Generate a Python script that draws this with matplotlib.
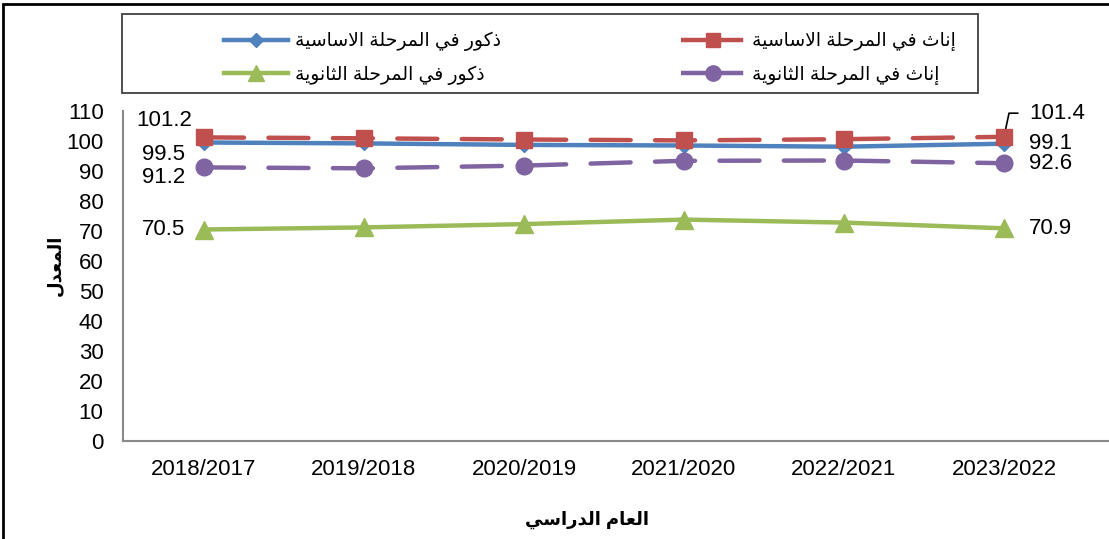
import matplotlib
matplotlib.use("Agg")
import matplotlib.pyplot as plt
from matplotlib.lines import Line2D
from matplotlib.patches import Rectangle

plt.rcParams['font.family'] = ['Liberation Sans', 'DejaVu Sans']

# data
years = ["2018/2017", "2019/2018", "2020/2019", "2021/2020", "2022/2021", "2023/2022"]
males_basic = [99.5, 99.2, 98.7, 98.5, 98.1, 99.1]
females_basic = [101.2, 100.9, 100.5, 100.2, 100.6, 101.4]
males_secondary = [70.5, 71.2, 72.3, 73.8, 72.8, 70.9]
females_secondary = [91.2, 90.9, 91.8, 93.4, 93.5, 92.6]

lbl_males_basic = "ذكور في المرحلة الاساسية"
lbl_females_basic = "إناث في المرحلة الاساسية"
lbl_males_secondary = "ذكور في المرحلة الثانوية"
lbl_females_secondary = "إناث في المرحلة الثانوية"
xlabel = "العام الدراسي"
ylabel = "المعدل"
yticks = list(range(0, 111, 10))

# --- minimal arabic shaping (matplotlib has no complex text layout) ---
# (isolated, final, initial, medial)
FORMS = {
    'ء': ('\uFE80', None, None, None),
    'آ': ('\uFE81', '\uFE82', None, None),
    'أ': ('\uFE83', '\uFE84', None, None),
    'إ': ('\uFE87', '\uFE88', None, None),
    'ا': ('\uFE8D', '\uFE8E', None, None),
    'ب': ('\uFE8F', '\uFE90', '\uFE91', '\uFE92'),
    'ة': ('\uFE93', '\uFE94', None, None),
    'ت': ('\uFE95', '\uFE96', '\uFE97', '\uFE98'),
    'ث': ('\uFE99', '\uFE9A', '\uFE9B', '\uFE9C'),
    'ج': ('\uFE9D', '\uFE9E', '\uFE9F', '\uFEA0'),
    'ح': ('\uFEA1', '\uFEA2', '\uFEA3', '\uFEA4'),
    'خ': ('\uFEA5', '\uFEA6', '\uFEA7', '\uFEA8'),
    'د': ('\uFEA9', '\uFEAA', None, None),
    'ذ': ('\uFEAB', '\uFEAC', None, None),
    'ر': ('\uFEAD', '\uFEAE', None, None),
    'ز': ('\uFEAF', '\uFEB0', None, None),
    'س': ('\uFEB1', '\uFEB2', '\uFEB3', '\uFEB4'),
    'ش': ('\uFEB5', '\uFEB6', '\uFEB7', '\uFEB8'),
    'ص': ('\uFEB9', '\uFEBA', '\uFEBB', '\uFEBC'),
    'ض': ('\uFEBD', '\uFEBE', '\uFEBF', '\uFEC0'),
    'ط': ('\uFEC1', '\uFEC2', '\uFEC3', '\uFEC4'),
    'ظ': ('\uFEC5', '\uFEC6', '\uFEC7', '\uFEC8'),
    'ع': ('\uFEC9', '\uFECA', '\uFECB', '\uFECC'),
    'غ': ('\uFECD', '\uFECE', '\uFECF', '\uFED0'),
    'ف': ('\uFED1', '\uFED2', '\uFED3', '\uFED4'),
    'ق': ('\uFED5', '\uFED6', '\uFED7', '\uFED8'),
    'ك': ('\uFED9', '\uFEDA', '\uFEDB', '\uFEDC'),
    'ل': ('\uFEDD', '\uFEDE', '\uFEDF', '\uFEE0'),
    'م': ('\uFEE1', '\uFEE2', '\uFEE3', '\uFEE4'),
    'ن': ('\uFEE5', '\uFEE6', '\uFEE7', '\uFEE8'),
    'ه': ('\uFEE9', '\uFEEA', '\uFEEB', '\uFEEC'),
    'و': ('\uFEED', '\uFEEE', None, None),
    'ى': ('\uFEEF', '\uFEF0', None, None),
    'ي': ('\uFEF1', '\uFEF2', '\uFEF3', '\uFEF4'),
}
LAM_ALEF = {
    'آ': ('\uFEF5', '\uFEF6', None, None),
    'أ': ('\uFEF7', '\uFEF8', None, None),
    'إ': ('\uFEF9', '\uFEFA', None, None),
    'ا': ('\uFEFB', '\uFEFC', None, None),
}


def shape(text):
    tokens = []
    i = 0
    while i < len(text):
        c = text[i]
        if c == 'ل' and i + 1 < len(text) and text[i + 1] in LAM_ALEF:
            tokens.append(LAM_ALEF[text[i + 1]])
            i += 2
            continue
        tokens.append(FORMS.get(c, c))
        i += 1
    out = []
    for k, t in enumerate(tokens):
        if isinstance(t, str):
            out.append(t)
            continue
        prev = tokens[k - 1] if k > 0 else None
        nxt = tokens[k + 1] if k + 1 < len(tokens) else None
        jp = isinstance(prev, tuple) and prev[2] is not None
        jn = t[2] is not None and isinstance(nxt, tuple)
        if jp and jn:
            out.append(t[3])
        elif jp:
            out.append(t[1])
        elif jn:
            out.append(t[2])
        else:
            out.append(t[0])
    return ''.join(out)[::-1]


blue = '#4F81BD'
red = '#C0504D'
green = '#9BBB59'
purple = '#8064A2'

fig = plt.figure(figsize=(11.09, 5.39), dpi=100)
ax = fig.add_axes([123 / 1109, 1 - 441 / 539, 1 - 123 / 1109, (441 - 111) / 539])

x = list(range(len(years)))
ax.plot(x, males_basic, color=blue, lw=3.2, marker='D', ms=7, zorder=3)
ax.plot(x, females_basic, color=red, lw=3.2, ls=(0, (9, 5.5)), dash_capstyle='round',
        marker='s', ms=11, zorder=4)
ax.plot(x, males_secondary, color=green, lw=3.2, marker='^', ms=13, zorder=3)
ax.plot(x, females_secondary, color=purple, lw=3.2, ls=(0, (9, 5.5)), dash_capstyle='round',
        marker='o', ms=12, zorder=3)

ax.set_xlim(-81 / 160, -81 / 160 + 986 / 160)
ax.set_ylim(0, 110)
ax.set_yticks(yticks)
ax.set_xticks(x)
ax.set_xticklabels(years)
ax.tick_params(axis='both', length=0, labelsize=16)
ax.tick_params(axis='y', pad=14)
ax.tick_params(axis='x', pad=13)
for s in ['top', 'right']:
    ax.spines[s].set_visible(False)
for s in ['left', 'bottom']:
    ax.spines[s].set_color('#898989')
    ax.spines[s].set_linewidth(1.5)

# data labels on first and last points
series = [males_basic, females_basic, males_secondary, females_secondary]
first_off = [(-29, -9), (-29, 12), (-29, 0), (-29, -7)]
last_off = [(18, 0), (18, 17), (18, 0), (18, 0)]
for vals, fo, lo in zip(series, first_off, last_off):
    ax.annotate(f"{vals[0]:.1f}", (0, vals[0]), xytext=fo, textcoords='offset points',
                ha='center', va='center', fontsize=16)
    if lo[1] > 0:
        ax.annotate(f"{vals[-1]:.1f}", (5, vals[-1]), xytext=lo, textcoords='offset points',
                    ha='left', va='center', fontsize=16,
                    arrowprops=dict(arrowstyle='-', color='black', lw=1.2,
                                    relpos=(0, 0.5), shrinkA=6, shrinkB=1,
                                    connectionstyle='angle,angleA=0,angleB=78,rad=0'))
    else:
        ax.annotate(f"{vals[-1]:.1f}", (5, vals[-1]), xytext=lo, textcoords='offset points',
                    ha='left', va='center', fontsize=16)

# axis titles
fig.text(55 / 1109, 1 - 265 / 539, shape(ylabel), rotation=90, ha='center', va='center',
         fontsize=13, fontweight='bold')
fig.text(587 / 1109, 1 - 520 / 539, shape(xlabel), ha='center', va='center',
         fontsize=13, fontweight='bold')

# legend
handles = [
    Line2D([], [], color=blue, lw=3.2, marker='D', ms=7),
    Line2D([], [], color=green, lw=3.2, marker='^', ms=11),
    Line2D([], [], color=red, lw=3.2, ls=(0, (14, 2.5)), marker='s', ms=10),
    Line2D([], [], color=purple, lw=3.2, ls=(0, (14, 2.5)), marker='o', ms=11),
]
labels = [shape(lbl_males_basic), shape(lbl_males_secondary),
          shape(lbl_females_basic), shape(lbl_females_secondary)]
fig.legend(handles, labels, ncol=2, loc='upper left',
           bbox_to_anchor=(205 / 1109, 1 - 13 / 539), frameon=False, fontsize=13.5,
           handlelength=3.4, handletextpad=0.4, columnspacing=9.6, labelspacing=0.75,
           borderpad=0.5)
fig.patches.append(Rectangle((122 / 1109, 1 - 93 / 539), (978 - 122) / 1109, 79 / 539,
                             transform=fig.transFigure, fill=False, edgecolor='#404040',
                             lw=1.3))

# outer chart border (cropped)
fig.patches.append(Rectangle((3 / 1109, -0.1), 1.2, 1.1 - 4 / 539, transform=fig.transFigure,
                             fill=False, edgecolor='black', lw=2))

fig.savefig("out.png", dpi=100)
